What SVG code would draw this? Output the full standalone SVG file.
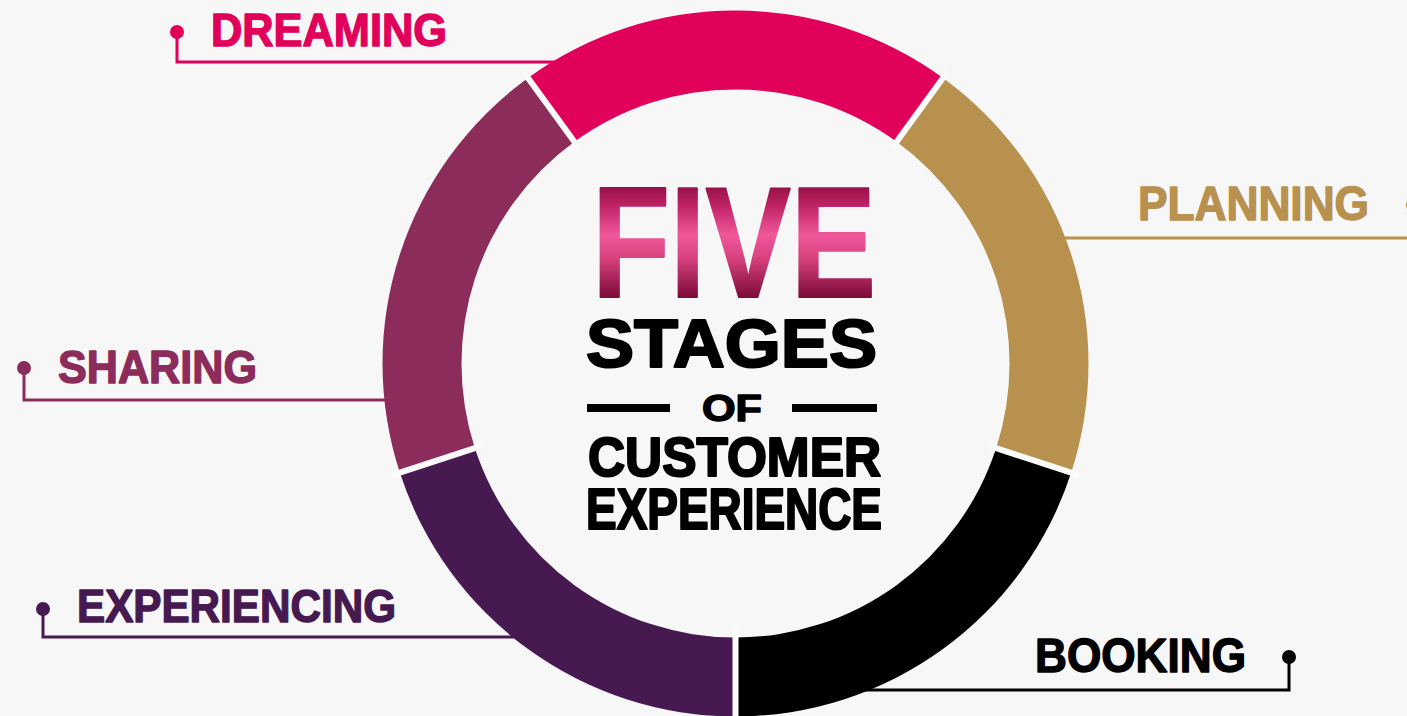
<svg xmlns="http://www.w3.org/2000/svg" width="1407" height="716" viewBox="0 0 1407 716">
  <style>
    .lbl { font-family: "Liberation Sans", Arial, sans-serif; font-weight: 700; stroke-width: 1.4; stroke-linejoin: round; }
    .big { stroke-width: 2.2; }
    .lead { fill: none; stroke-width: 3; }
    .cut { stroke: #FBFBFB; stroke-width: 6; }
  </style>
  <defs>
    <linearGradient id="fiveFill" gradientUnits="userSpaceOnUse" x1="0" y1="183" x2="0" y2="298">
      <stop offset="0" stop-color="#8E0E42"/>
      <stop offset="0.2" stop-color="#C02366"/>
      <stop offset="0.45" stop-color="#F0589A"/>
      <stop offset="0.65" stop-color="#D8427F"/>
      <stop offset="1" stop-color="#7A0A38"/>
    </linearGradient>
  </defs>

  <rect width="1407" height="716" fill="#F7F7F7"/>

  <!-- leader lines from each label to the ring -->
  <g id="connectors">
    <path class="lead" stroke="#E1005A" d="M177,32 V62 H560"/>
    <path class="lead" stroke="#B8914F" d="M1055,238 H1413 V205"/>
    <path class="lead" stroke="#8C2C5A" d="M24,368 V400 H395"/>
    <path class="lead" stroke="#461A50" d="M43,609 V637 H525"/>
    <path class="lead" stroke="#000000" d="M860,690 H1289 V657"/>
    <circle cx="177" cy="32" r="7" fill="#E1005A"/>
    <circle cx="1413" cy="205" r="7" fill="#B8914F"/>
    <circle cx="24" cy="368" r="7" fill="#8C2C5A"/>
    <circle cx="43" cy="609" r="7" fill="#461A50"/>
    <circle cx="1289" cy="657" r="7" fill="#000000"/>
  </g>

  <!-- ring segments, clockwise from the top -->
  <g id="dreaming">
    <path fill="#E1005A" d="M528,77.9 A353,353 0 0 1 943,77.9 L896.6,141.8 A274,274 0 0 0 574.4,141.8 Z"/>
    <text class="lbl" x="211" y="46" font-size="47" fill="#E1005A" stroke="#E1005A" textLength="236" lengthAdjust="spacingAndGlyphs">DREAMING</text>
  </g>
  <g id="planning">
    <path fill="#B8914F" d="M943,77.9 A353,353 0 0 1 1071.2,472.6 L996.1,448.2 A274,274 0 0 0 896.6,141.8 Z"/>
    <text class="lbl" x="1138" y="220" font-size="48" fill="#B8914F" stroke="#B8914F" textLength="231" lengthAdjust="spacingAndGlyphs">PLANNING</text>
  </g>
  <g id="booking">
    <path fill="#000000" d="M1071.2,472.6 A353,353 0 0 1 735.5,716.5 L735.5,637.5 A274,274 0 0 0 996.1,448.2 Z"/>
    <text class="lbl" x="1035" y="672" font-size="48" fill="#000000" stroke="#000000" textLength="211" lengthAdjust="spacingAndGlyphs">BOOKING</text>
  </g>
  <g id="experiencing">
    <path fill="#461A50" d="M735.5,716.5 A353,353 0 0 1 399.8,472.6 L474.9,448.2 A274,274 0 0 0 735.5,637.5 Z"/>
    <text class="lbl" x="77" y="622" font-size="47" fill="#461A50" stroke="#461A50" textLength="319" lengthAdjust="spacingAndGlyphs">EXPERIENCING</text>
  </g>
  <g id="sharing">
    <path fill="#8C2C5A" d="M399.8,472.6 A353,353 0 0 1 528,77.9 L574.4,141.8 A274,274 0 0 0 474.9,448.2 Z"/>
    <text class="lbl" x="58" y="383" font-size="46" fill="#8C2C5A" stroke="#8C2C5A" textLength="199" lengthAdjust="spacingAndGlyphs">SHARING</text>
  </g>

  <!-- thin light gaps between the segments -->
  <g id="gaps">
    <line class="cut" x1="523.3" y1="71.4" x2="579.1" y2="148.3"/>
    <line class="cut" x1="947.7" y1="71.4" x2="891.9" y2="148.3"/>
    <line class="cut" x1="1078.8" y1="475.1" x2="988.5" y2="445.7"/>
    <line class="cut" x1="735.5" y1="725" x2="735.5" y2="629"/>
    <line class="cut" x1="392.2" y1="475.1" x2="482.5" y2="445.7"/>
  </g>

  <!-- centre title -->
  <g id="title">
    <text class="lbl big" x="592" y="297" font-size="158" fill="url(#fiveFill)" stroke="url(#fiveFill)" textLength="284" lengthAdjust="spacingAndGlyphs">FIVE</text>
    <text class="lbl big" x="586" y="367" font-size="69" fill="#000000" stroke="#000000" textLength="291" lengthAdjust="spacingAndGlyphs">STAGES</text>
    <rect x="587" y="404" width="83" height="8" fill="#000000"/>
    <text class="lbl" x="702" y="421" font-size="37" fill="#000000" stroke="#000000" textLength="60" lengthAdjust="spacingAndGlyphs">OF</text>
    <rect x="792" y="404" width="85" height="8" fill="#000000"/>
    <text class="lbl big" x="588" y="476" font-size="55" fill="#000000" stroke="#000000" textLength="293" lengthAdjust="spacingAndGlyphs">CUSTOMER</text>
    <text class="lbl big" x="586" y="529" font-size="57" fill="#000000" stroke="#000000" textLength="296" lengthAdjust="spacingAndGlyphs">EXPERIENCE</text>
  </g>
</svg>
